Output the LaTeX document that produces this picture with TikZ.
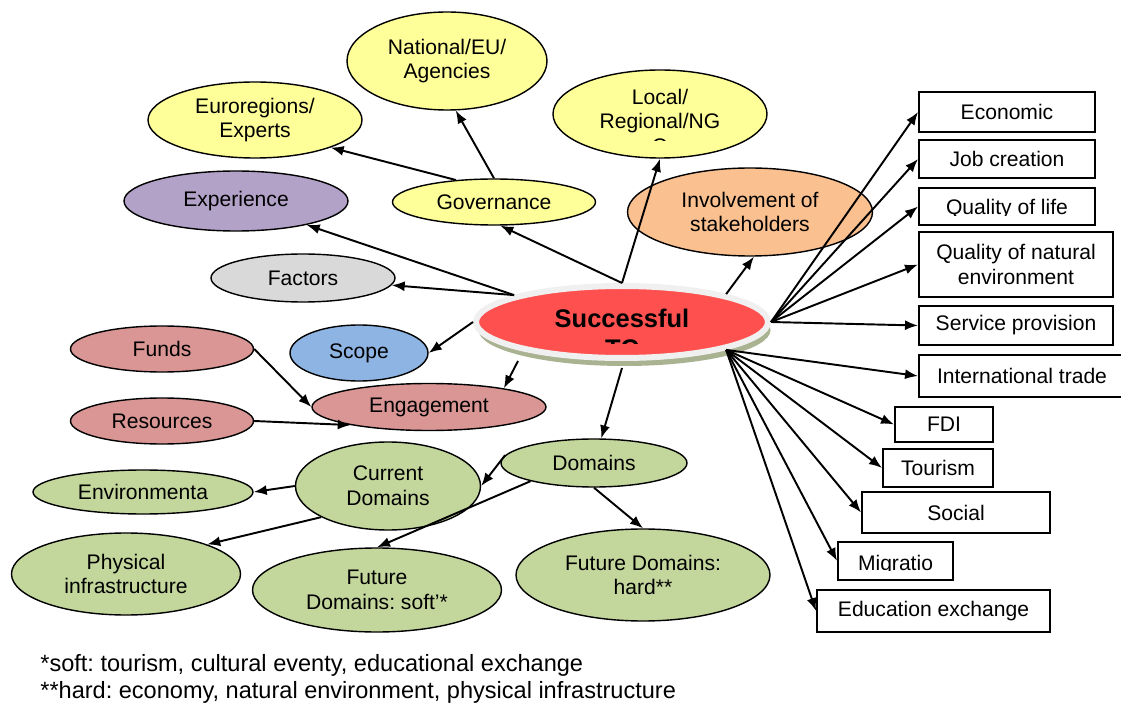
\documentclass[tikz,border=0pt]{standalone}
\usepackage{fontspec}
\setmainfont{Liberation Sans}
\usetikzlibrary{shapes.geometric,shadows,arrows.meta}
\frenchspacing

\definecolor{tcred}{HTML}{FF5050}
\definecolor{tcring}{HTML}{F0F0F0}
\definecolor{tcshade}{HTML}{A9B291}
\definecolor{tcyellow}{HTML}{FFFF99}
\definecolor{tcpurple}{HTML}{B3A2C7}
\definecolor{tcgrey}{HTML}{D9D9D9}
\definecolor{tcorange}{HTML}{FAC090}
\definecolor{tcblue}{HTML}{8EB4E3}
\definecolor{tcpink}{HTML}{D99694}
\definecolor{tcgreen}{HTML}{C3D69B}

\tikzstyle{bubble}=[ellipse,
                    thick,
                    draw=black,
                    inner sep=0pt,
                    align=center]
\tikzstyle{effect}=[rectangle,
                    line width=1.1pt,
                    draw=black,
                    fill=white,
                    inner sep=0pt,
                    align=center]
\tikzstyle{core}=[ellipse,
                    minimum width=292*0.2mm,
                    minimum height=72*0.2mm,
                    line width=1.2mm,
                    draw=tcring,
                    fill=tcred,
                    drop shadow={shadow xshift=0.5mm,
                                 shadow yshift=-1.6mm,
                                 fill=tcshade,
                                 opacity=1}]
\tikzstyle{note}=[anchor=west,
                    inner sep=0pt,
                    font=\fontsize{13.4}{16}\selectfont]

% sizes are given in the same units as the coordinates
\tikzset{wh/.style 2 args={minimum width=#1*0.2mm,
                           minimum height=#2*0.2mm}}
% labels that run out of their box are cut off below a line:
% #1 shift of the text, #2 height of the cut, #3 font, #4 text
\tikzset{cut text/.style n args={4}{path picture={
    \clip ([yshift=#2]path picture bounding box.west)
        rectangle (path picture bounding box.north east);
    \node[draw=none,fill=none,shape=rectangle,inner sep=0pt,
          align=center,font=#3]
        at ([yshift=#1]path picture bounding box.center) {#4};}}}

\begin{document}
\begin{tikzpicture}[x=0.2mm,y=-0.2mm,>={Latex[length=2.6mm,width=2mm]},
    every node/.style={font=\fontsize{12}{14}\selectfont}]
  \useasboundingbox (0,0) rectangle (1121,704);

  % Governance and its partners
  \node (national) [bubble,fill=tcyellow,wh={200}{98}] at (447,61) {National/EU/\\Agencies};
  \node (euroregions) [bubble,fill=tcyellow,wh={214}{76}] at (255,120) {Euroregions/\\Experts};
  \node (local) [bubble,fill=tcyellow,wh={214}{88},
      cut text={-1.46mm}{-5.4mm}{\fontsize{12}{14}\selectfont}{Local/\\Regional/NG\\O}] at (660,114) {};
  \node (governance) [bubble,fill=tcyellow,wh={203}{46}] at (494,202) {Governance};

  % Left-hand bubbles
  \node (experience) [bubble,fill=tcpurple,wh={224}{60}] at (236,201) {Experience};
  \node (factors) [bubble,fill=tcgrey,wh={184}{48}] at (303,278) {Factors};
  \node (involvement) [bubble,fill=tcorange,wh={245}{88}] at (750,212) {Involvement of\\stakeholders};
  \node (scope) [bubble,fill=tcblue,wh={138}{56}] at (359,353) {Scope};
  \node (funds) [bubble,fill=tcpink,wh={183}{46}] at (162,349) {Funds};
  \node (resources) [bubble,fill=tcpink,wh={183}{46}] at (162,421) {Resources};
  \node (engagement) [bubble,fill=tcpink,wh={234}{47}] at (429,407) {Engagement};

  % The centre
  \node (TC) [core,
      cut text={-2.3mm}{-4.3mm}{\bfseries\fontsize{14.5}{17.5}\selectfont}{Successful\\TC}] at (622,322) {};

  % Domains
  \node (domains) [bubble,fill=tcgreen,wh={186}{48}] at (594,463) {Domains};
  \node (current) [bubble,fill=tcgreen,wh={185}{88}] at (388,486) {Current\\Domains};
  \node (environ) [bubble,fill=tcgreen,wh={220}{44}] at (143,492) {Environmenta};
  \node (physical) [bubble,fill=tcgreen,wh={229}{82}] at (126,574) {Physical\\infrastructure};
  \node (soft) [bubble,fill=tcgreen,wh={249}{84}] at (377,590) {Future\\Domains: soft'*};
  \node (hard) [bubble,fill=tcgreen,wh={254}{92}] at (643,575) {Future Domains:\\hard**};

  % Effects on the right
  \node (economic) [effect,wh={176}{40}] at (1007,112) {Economic};
  \node (jobs) [effect,wh={176}{38}] at (1007,159) {Job creation};
  \node (qlife) [effect,wh={176}{37},
      cut text={-0.6mm}{-1.9mm}{\fontsize{12}{14}\selectfont}{Quality of life}] at (1007,206.5) {};
  \node (qnature) [effect,wh={194}{65}] at (1016,264.5) {Quality of natural\\environment};
  \node (service) [effect,wh={194}{39}] at (1016,325.5) {Service provision};
  \node (trade) [effect,wh={206}{42}] at (1022,376) {International trade};
  \node (fdi) [effect,wh={98}{35}] at (944,424.5) {FDI};
  \node (tourism) [effect,wh={110}{38}] at (938,468) {Tourism};
  \node (social) [effect,wh={188}{41}] at (956,512.5) {Social};
  \node (migration) [effect,wh={115}{38},
      cut text={-0.75mm}{-1.95mm}{\fontsize{12}{14}\selectfont}{Migratio}] at (895.5,561) {};
  \node (education) [effect,wh={233}{42}] at (933.5,611) {Education exchange};

  % Notes
  \node (softnote) [note] at (40,665) {*soft: tourism, cultural eventy, educational exchange};
  \node (hardnote) [note] at (40,692) {**hard: economy, natural environment, physical infrastructure};

  % Connections
  \path[->,line width=1.1pt]
      (governance.north) edge (national.-80)
      (governance.150) edge (euroregions.-20)
      (TC.north) edge (governance.-75)
      (TC.north) edge (local.south)
      (TC.166) edge (experience)
      (TC.166) edge (factors)
      (TC.west) edge (scope.east)
      (TC.15) edge (involvement.-85)
      ([xshift=-20.8mm]TC.south) edge (engagement.14)
      (funds.east) edge (engagement.west)
      (resources.east) edge (engagement.193)

      ([yshift=-1.4mm]TC.south) edge (domains)
      (domains.175) edge (current.east)
      (current.west) edge (environ.east)
      (current.205) edge (physical.20)
      (domains.196) edge (soft.north)
      (domains.south) edge (hard.north)

      (TC.east) edge (economic.west)
      (TC.east) edge (jobs.west)
      (TC.east) edge (qlife.west)
      (TC.east) edge (qnature.west)
      (TC.east) edge (service.west)
      (TC.-15) edge (trade.west)
      (TC.-15) edge (fdi.west)
      (TC.-15) edge (tourism.west)
      (TC.-15) edge (social.west)
      (TC.-15) edge (migration.west)
      (TC.-15) edge (education.west)
      ;
\end{tikzpicture}
\end{document}
